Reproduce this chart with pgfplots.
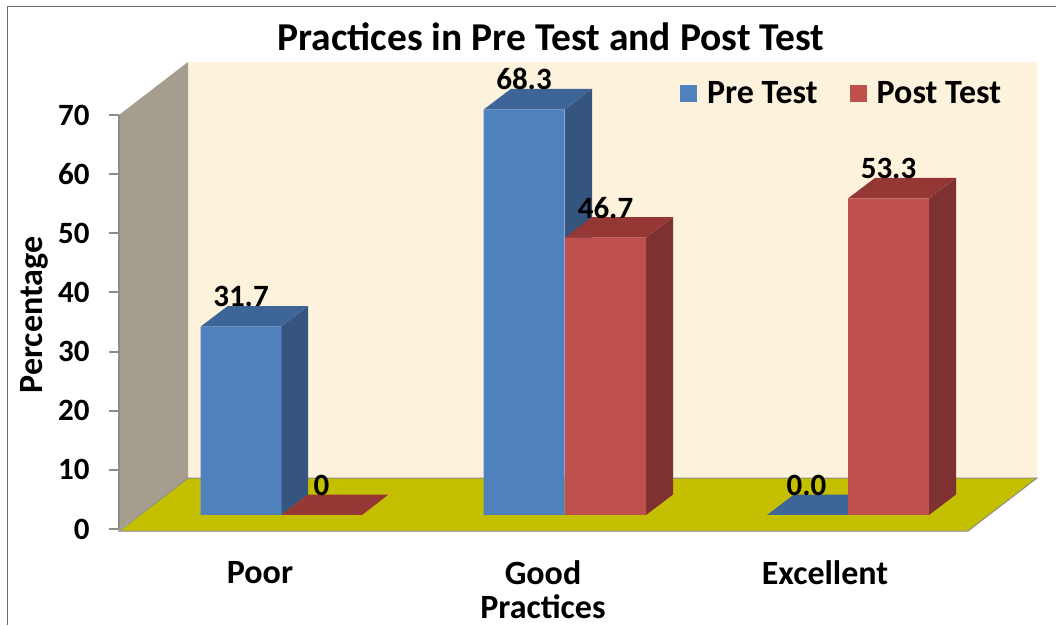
\documentclass[border=0pt]{standalone}
\usepackage{fontspec}
\setmainfont{Carlito}
\usepackage{pgfplots}
\pgfplotsset{compat=1.18}

\definecolor{wallback}{HTML}{FDF2DC}
\definecolor{wallside}{HTML}{A59D8E}
\definecolor{floorc}{HTML}{C4BF00}
\definecolor{axisgray}{HTML}{8C8C8C}
\definecolor{frameg}{HTML}{6E6E6E}
\definecolor{bluefront}{HTML}{4F81BD}
\definecolor{bluetop}{HTML}{3E6597}
\definecolor{blueside}{HTML}{35557F}
\definecolor{redfront}{HTML}{C0504D}
\definecolor{redtop}{HTML}{953735}
\definecolor{redside}{HTML}{7D3231}

\newcommand{\lab}{\bfseries\fontsize{34}{36}\selectfont}
\newcommand{\num}{\bfseries\fontsize{31}{33}\selectfont}
\newcommand{\ttl}{\bfseries\fontsize{39.5}{41}\selectfont}

\begin{document}
\begin{tikzpicture}
\useasboundingbox (0,0) rectangle (1056pt,625pt);

% backdrop: frame, walls and floor, in pixel coordinates of the picture
\begin{axis}[
    at={(0,0)}, anchor=south west,
    scale only axis, width=1056pt, height=625pt,
    xmin=0, xmax=1056, ymin=0, ymax=625, y dir=reverse,
    hide axis, clip=false,
]
\addplot[draw=frameg, line width=1.3pt] coordinates {(7.5,625) (7.5,6.5) (1056,6.5)};
\addplot[fill=wallback, draw=none] coordinates {(188,62) (1037,62) (1037,478) (188,478)} --cycle;
\addplot[fill=wallside, draw=none] coordinates {(119,115) (188,62) (188,478) (119,530)} --cycle;
\addplot[fill=floorc, draw=axisgray, line width=1pt] coordinates {(119,531) (188,478) (1037,478) (968,531)} --cycle;
\end{axis}

% the labelled axis: 70 units on the wall's front edge
\begin{axis}[
    at={(119pt,96pt)}, anchor=south west,
    scale only axis, width=849pt, height=414pt,
    xmin=119, xmax=968, ymin=0, ymax=70,
    axis x line=bottom, axis y line=left,
    axis line style={-, draw=axisgray, line width=2pt},
    x axis line style={draw=none},
    xtick={260,543,825}, xticklabels={Poor,Good,Excellent},
    ytick={0,10,...,70},
    /pgf/number format/assume math mode=true,
    x tick label style={font=\lab, text=black, anchor=center, yshift=-34pt},
    y tick label style={font=\num, text=black, anchor=east, xshift=-16pt},
    xtick style={draw=none},
    ytick style={draw=axisgray, line width=2pt},
    major tick length=10pt,
    tick align=outside,
    title={Practices in Pre Test and Post Test},
    title style={font=\ttl, at={(rel axis cs:0.509,1.174)}, anchor=center},
    xlabel={Practices},
    xlabel style={font=\lab, at={(rel axis cs:0.4994,-0.188)}, anchor=center},
    ylabel={Percentage},
    ylabel style={font=\lab, at={(rel axis cs:-0.1001,0.517)}, anchor=center},
]
\addplot[draw=none, forget plot] coordinates {(119,0)};
\end{axis}

% the bars: x in picture pixels, y in percent from the floor line
\begin{axis}[
    at={(0,0)}, anchor=south west,
    scale only axis, width=1056pt, height=625pt,
    xmin=0, xmax=1056, ymin=-18.52, ymax=86.70,
    hide axis, clip=false,
    legend columns=2,
    legend cell align=left,
    legend style={
        at={(rel axis cs:0.641,0.851)}, anchor=west,
        draw=none, fill=none, font=\lab,
        /tikz/every odd column/.append style={column sep=8pt},
        /tikz/every even column/.append style={column sep=30pt},
    },
    legend image code/.code={\fill[#1] (0pt,-8.5pt) rectangle (17pt,8.5pt);},
]
% side and top faces
\addplot[fill=blueside, draw=none, forget plot] coordinates {(281,0) (308,3.45) (308,35.15) (281,31.7)} --cycle;
\addplot[fill=bluetop, draw=none, forget plot] coordinates {(200.5,31.7) (281,31.7) (308,35.15) (227.5,35.15)} --cycle;
\addplot[fill=redtop, draw=none, forget plot] coordinates {(281,0) (362,0) (388.5,3.45) (308,3.45)} --cycle;

\addplot[fill=blueside, draw=none, forget plot] coordinates {(565,0) (592,3.45) (592,71.75) (565,68.3)} --cycle;
\addplot[fill=bluetop, draw=none, forget plot] coordinates {(484,68.3) (565,68.3) (592,71.75) (511,71.75)} --cycle;
\addplot[fill=redside, draw=none, forget plot] coordinates {(646,0) (673,3.45) (673,50.15) (646,46.7)} --cycle;
\addplot[fill=redtop, draw=none, forget plot] coordinates {(565,46.7) (646,46.7) (673,50.15) (592,50.15)} --cycle;

\addplot[fill=bluetop, draw=none, forget plot] coordinates {(767,0) (848,0) (875,3.45) (794,3.45)} --cycle;
\addplot[fill=redside, draw=none, forget plot] coordinates {(929,0) (956,3.45) (956,56.75) (929,53.3)} --cycle;
\addplot[fill=redtop, draw=none, forget plot] coordinates {(848,53.3) (929,53.3) (956,56.75) (875,56.75)} --cycle;

% front faces, with the value labels
\addplot[ybar, bar width=81pt, bar shift=0pt, fill=bluefront, draw=none,
    point meta=explicit symbolic,
    nodes near coords,
    every node near coord/.append style={font=\num, text=black, anchor=center, yshift=30pt},
] coordinates {(241,31.7) [31.7] (524,68.3) [68.3] (806.5,0) [0.0]};
\addlegendentry{Pre Test}
\addplot[ybar, bar width=81pt, bar shift=0pt, fill=redfront, draw=none,
    point meta=explicit symbolic,
    nodes near coords,
    every node near coord/.append style={font=\num, text=black, anchor=center, yshift=30pt},
] coordinates {(321.5,0) [0] (605.5,46.7) [46.7] (888.5,53.3) [53.3]};
\addlegendentry{Post Test}
\end{axis}
\end{tikzpicture}
\end{document}
